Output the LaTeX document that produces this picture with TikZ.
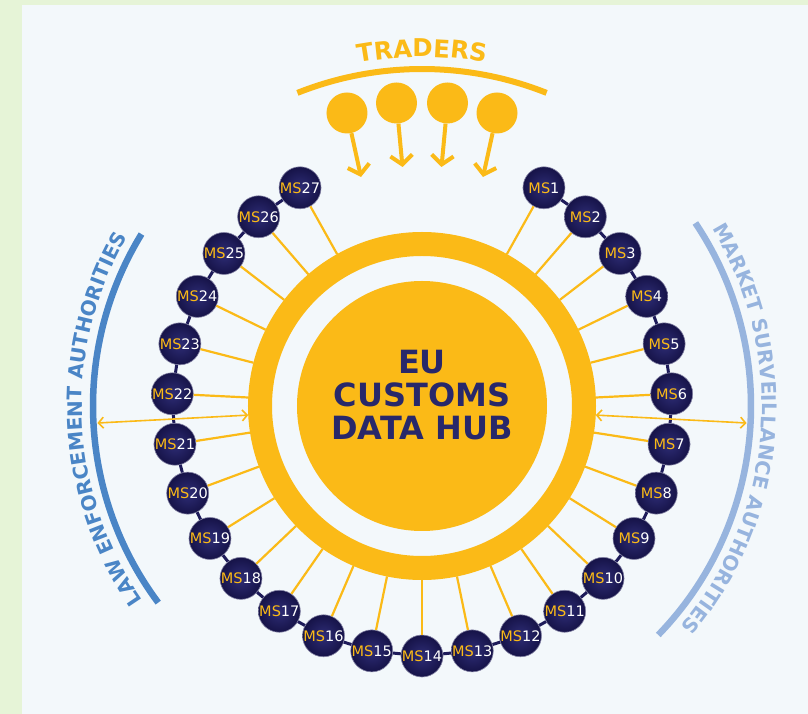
\documentclass[tikz,border=0pt]{standalone}
\usepackage{fontspec}
\setmainfont{DejaVu Sans}
\usepackage{tikz}
\usetikzlibrary{arrows.meta, decorations.text, calc}
\definecolor{gold}{RGB}{251,186,23}
\definecolor{navy}{RGB}{30,27,90}
\definecolor{msin}{RGB}{46,45,118}
\definecolor{msout}{RGB}{22,19,72}
\definecolor{hubnavy}{RGB}{40,40,106}
\definecolor{lawblue}{RGB}{74,133,198}
\definecolor{marketblue}{RGB}{151,180,222}
\definecolor{pagegreen}{RGB}{230,244,215}
\definecolor{panel}{RGB}{243,248,251}
\newcommand{\mslabel}[1]{\textcolor{gold}{MS}\textcolor{white}{#1}}
\tikzstyle{msnode} = [circle, minimum size=42pt, inner sep=0pt, draw=navy!55!white, line width=0.6pt, inner color=msin, outer color=msout, font=\fontsize{14.5}{15}\selectfont]
\tikzstyle{spoke} = [gold, line width=2.2pt]
\tikzstyle{msline} = [navy, line width=3pt]
\tikzstyle{trader} = [circle, fill=gold, minimum size=41pt, inner sep=0pt]
\tikzstyle{traderarrow} = [gold, line width=4pt, -{Straight Barb[length=9pt,width=22pt]}]
\tikzstyle{dblarrow} = [gold, line width=1.6pt, {Straight Barb[length=5pt,width=11pt]}-{Straight Barb[length=5pt,width=11pt]}]
\begin{document}
\begin{tikzpicture}[x=1pt, y=1pt]
	\useasboundingbox (-422,-308) rectangle (386,406);
	\fill[pagegreen] (-422,-308) rectangle (386,406);
	\fill[panel] (-400,-308) rectangle (386,401);
	
	% traders on top
	\path[decorate, decoration={text along path, text align=center, text={|\color{gold}\bfseries\fontsize{24.5}{28}\selectfont|TRADERS}}] (110:349) arc[start angle=110, end angle=70, radius=349];
	\draw[gold, line width=6pt] (111.7:337) arc[start angle=111.7, end angle=68.3, radius=337];
	\node[trader] (trader1) at (-75,293) {};
	\node[trader] (trader2) at (-25.5,303) {};
	\node[trader] (trader3) at (25.5,303) {};
	\node[trader] (trader4) at (75,293) {};
	\coordinate (tip1) at (-61,229);
	\coordinate (tip2) at (-19.5,239);
	\coordinate (tip3) at (19.5,239);
	\coordinate (tip4) at (61,229);
	\foreach \i in {1,...,4} \draw[traderarrow] (trader\i) -- (tip\i);
	
	% the hub
	\node[circle, draw=gold, line width=24pt, minimum size=324pt] (ring) at (0,0) {};
	\node[circle, fill=gold, minimum size=250pt] (hub) at (0,0) {};
	\node[align=center, text=hubnavy, font=\bfseries\fontsize{32}{33}\selectfont] (hubtext) at (0,11) {EU\\CUSTOMS\\DATA HUB};
	
	% member states
	\foreach \i in {1,...,27} {
		\pgfmathsetmacro{\ang}{-90+11.6*(14-\i)}
		\node[msnode] (ms\i) at (\ang:250) {\mslabel{\i}};
	}
	\foreach \i in {1,...,27} \draw[spoke] (ms\i) -- (ring);
	\foreach \i [evaluate=\i as \j using int(\i+1)] in {1,...,26} \draw[msline] (ms\i) -- (ms\j);
	
	% authorities left and right
	\draw[lawblue, line width=6.5pt] (148.5:329) arc[start angle=148.5, end angle=216.7, radius=329];
	\path[decorate, decoration={text along path, text align=center, text={|\color{lawblue}\bfseries\fontsize{20}{24}\selectfont|LAW ENFORCEMENT AUTHORITIES}}] (222.5:340) arc[start angle=222.5, end angle=142.5, radius=340];
	\draw[marketblue, line width=6.5pt] (33.8:329) arc[start angle=33.8, end angle=-44.1, radius=329];
	\path[decorate, decoration={text along path, text align=center, text={|\color{marketblue}\bfseries\fontsize{20}{24}\selectfont|MARKET SURVEILLANCE AUTHORITIES}}] (35.5:340) arc[start angle=35.5, end angle=-44.5, radius=340];
	\coordinate (law) at (183:325);
	\coordinate (market) at (-3:325);
	\draw[dblarrow] (ring.183) -- (law);
	\draw[dblarrow] (ring.-3) -- (market);
\end{tikzpicture}
\end{document}
